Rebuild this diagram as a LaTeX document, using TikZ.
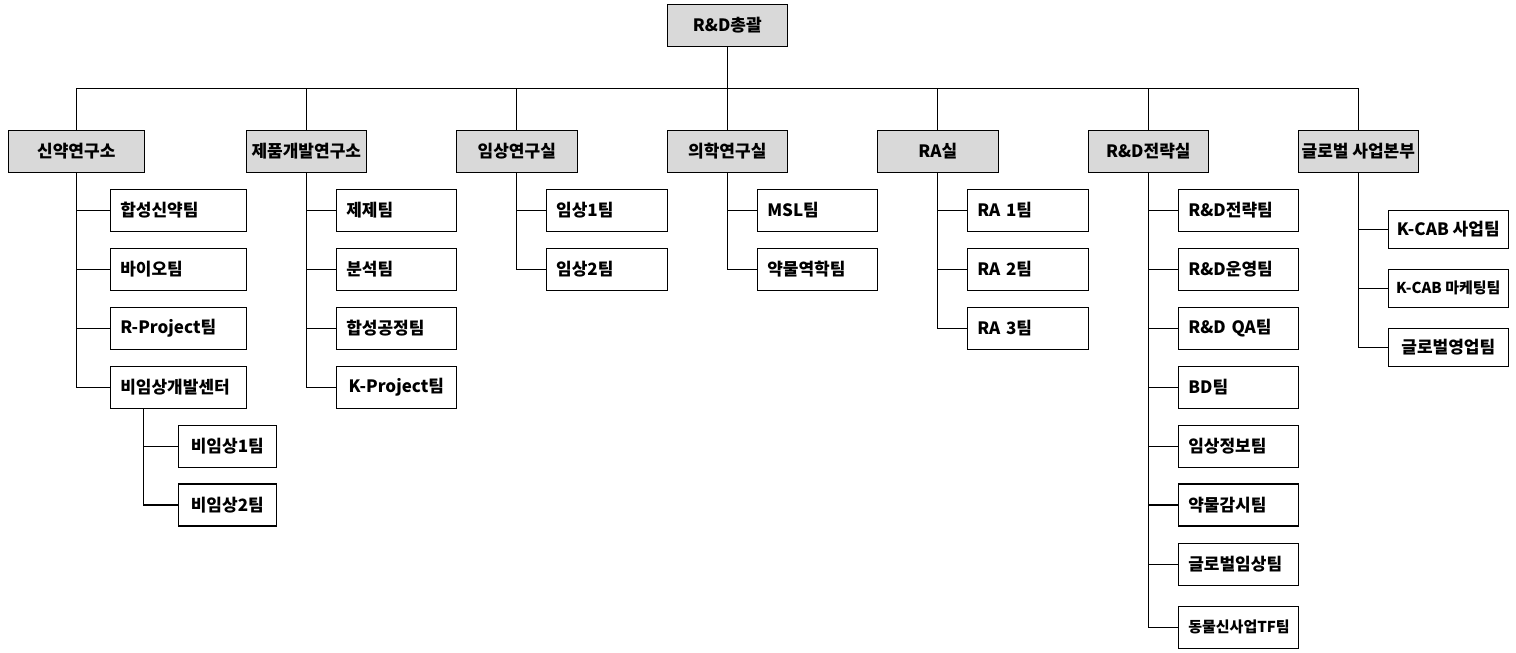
\documentclass[tikz,border=0pt]{standalone}
\usepackage{fontspec}
\setmainfont{Noto Sans CJK KR}
\tikzset{
  box/.style={draw,line width=1.2pt,minimum height=42pt,inner ysep=0pt,font=\bfseries\fontsize{17}{20}\selectfont},
  dept/.style={box,fill=black!15,minimum width=120pt,inner xsep=0pt,align=center},
  team/.style={box,inner xsep=10pt,text width=100pt,align=left},
  teamc/.style={box,minimum width=120pt,inner xsep=0pt,align=center},
  small/.style={font=\bfseries\fontsize{15}{18}\selectfont},
  link/.style={line width=1.2pt}
}
\begin{document}
\begin{tikzpicture}[x=1pt,y=-1pt]
\useasboundingbox (0,0) rectangle (1516,653);
% top and departments
\node[dept] (hq) at (727.3,25.2) {R\&D총괄}; \coordinate (bus) at (727.3,88.3);
\node[dept,minimum width=136pt] (sinyak) at (76.3,151.3) {신약연구소};
\node[dept] (jepum) at (306.3,151.3) {제품개발연구소};
\node[dept,minimum width=121pt] (imsang) at (516.8,151.3) {임상연구실};
\node[dept] (uihak) at (727.3,151.3) {의학연구실};
\node[dept,minimum width=121pt] (ra) at (937.8,151.3) {RA실};
\node[dept] (strat) at (1148.3,151.3) {R\&D전략실};
\node[dept] (global) at (1358.3,151.3) {글로벌 사업본부};
% 신약연구소
\node[team,text width=116pt] (s1) at (178.3,210.3) {합성신약팀}; \node[team,text width=116pt] (s2) at (178.3,269.3) {바이오팀};
\node[team,text width=116pt] (s3) at (178.3,328.3) {R-Project팀}; \node[team,text width=116pt] (s4) at (178.3,387.3) {비임상개발센터};
\node[teamc,minimum width=98pt] (b1) at (227.3,446.3) {비임상1팀}; \node[teamc,minimum width=98pt] (b2) at (227.3,505) {비임상2팀};
% 제품개발연구소
\node[team] (j1) at (396.3,210.3) {제제팀}; \node[team] (j2) at (396.3,269.3) {분석팀};
\node[team] (j3) at (396.3,328.3) {합성공정팀}; \node[teamc] (j4) at (396.3,387.3) {K-Project팀};
% 임상연구실, 의학연구실, RA실
\node[team,text width=101pt] (i1) at (606.7,210.3) {임상1팀}; \node[team,text width=101pt] (i2) at (606.7,269.3) {임상2팀};
\node[team] (u1) at (817.3,210.3) {MSL팀}; \node[team] (u2) at (817.3,269.3) {약물역학팀};
\node[team,text width=101pt] (r1) at (1027.8,210.3) {RA 1팀}; \node[team,text width=101pt] (r2) at (1027.8,269.3) {RA 2팀};
\node[team,text width=101pt] (r3) at (1027.8,328.3) {RA 3팀};
% R&D전략실
\node[team] (t1) at (1238.3,210.3) {R\&D전략팀}; \node[team] (t2) at (1238.3,269.3) {R\&D운영팀};
\node[team] (t3) at (1238.3,328.3) {R\&D QA팀}; \node[team] (t4) at (1238.3,387.3) {BD팀};
\node[team] (t5) at (1238.3,446.3) {임상정보팀}; \node[team] (t6) at (1238.3,505) {약물감시팀};
\node[team] (t7) at (1238.3,564.3) {글로벌임상팀};
\node[team,small] (t8) at (1238.3,627.3) {동물신사업TF팀};
% 글로벌 사업본부
\node[teamc,minimum height=38pt] (g1) at (1448.3,229.3) {K-CAB 사업팀};
\node[teamc,minimum height=38pt,small] (g2) at (1448.3,288.3) {K-CAB 마케팅팀};
\node[teamc,minimum height=38pt] (g3) at (1448.3,347.3) {글로벌영업팀};
% lines
\draw[link] (hq.south) -- (bus); \draw[link] (sinyak.north) |- (bus) -| (global.north);
\foreach \d in {jepum,imsang,uihak,ra,strat} \draw[link] (\d.north) -- (\d.north |- bus);
\foreach \t in {s1,s2,s3,s4} \draw[link] (sinyak.south) |- (\t.west);
\coordinate (bisub) at ([xshift=34pt]s4.south west);
\foreach \t in {b1,b2} \draw[link] (bisub) |- (\t.west);
\foreach \t in {j1,j2,j3,j4} \draw[link] (jepum.south) |- (\t.west);
\foreach \t in {i1,i2} \draw[link] (imsang.south) |- (\t.west);
\foreach \t in {u1,u2} \draw[link] (uihak.south) |- (\t.west);
\foreach \t in {r1,r2,r3} \draw[link] (ra.south) |- (\t.west);
\foreach \t in {t1,t2,t3,t4,t5,t6,t7,t8} \draw[link] (strat.south) |- (\t.west);
\foreach \t in {g1,g2,g3} \draw[link] (global.south) |- (\t.west);
\end{tikzpicture}
\end{document}
